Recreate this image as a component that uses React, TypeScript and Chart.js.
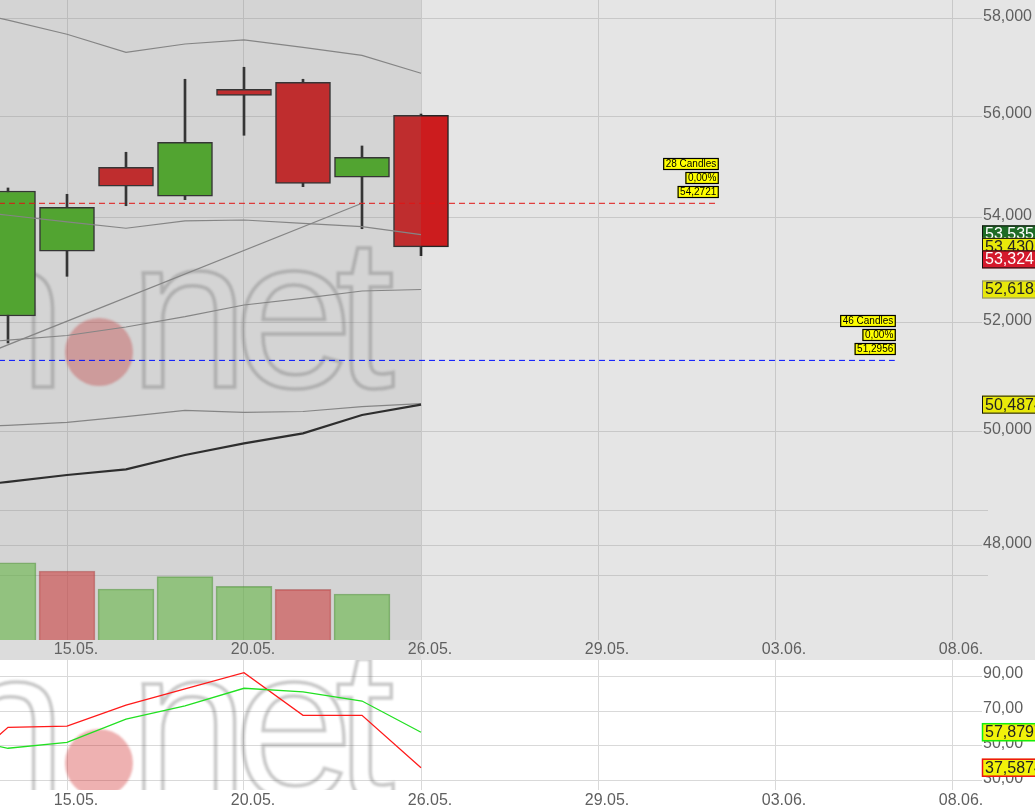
import React, { useEffect, useRef } from 'react';
import { Chart, registerables } from 'chart.js';

Chart.register(...registerables);

const FONT = '"Liberation Sans", Arial, Helvetica, sans-serif';

// ---------- data (prices in thousands, German decimal comma on display) ----------
const candleIdx = [0, 1, 2, 3, 4, 5, 6, 7];
const opens = [52.12, 53.345, 54.979, 54.409, 56.54, 56.682, 54.782, 56.015];
const highs = [54.572, 54.448, 55.276, 56.744, 56.989, 56.744, 55.401, 56.04];
const lows = [51.617, 52.868, 54.225, 54.343, 55.614, 54.597, 53.779, 53.261];
const closes = [54.513, 54.195, 54.605, 55.475, 56.418, 54.663, 55.176, 53.43];

const volumeIdx = [0, 1, 2, 3, 4, 5, 6];
const volumes = [1189, 1062, 785, 974, 826, 780, 708];
const volumeUp = [true, false, true, true, true, false, true];

const lineIdx = [-1, 0, 1, 2, 3, 4, 5, 6, 7];
const upperBand = [58.25, 57.96, 57.668, 57.296, 57.467, 57.55, 57.399, 57.234, 56.866];
const middleBand = [54.169, 54.04, 53.913, 53.788, 53.929, 53.948, 53.884, 53.818, 53.664];
const lowerBand = [50.06, 50.114, 50.168, 50.269, 50.385, 50.349, 50.363, 50.45, 50.505];
const maLine = [51.586, 51.67, 51.756, 51.915, 52.107, 52.326, 52.452, 52.59, 52.6183];
const blackLine = [48.988, 49.107, 49.228, 49.328, 49.583, 49.791, 49.97, 50.3, 50.4874];
const trendIdx = [-1, 6];
const trendValues = [51.149, 54.2721];

const redOsc = [31.2, 60.7, 61.3, 73.4, 82.6, 91.9, 67.5, 67.5, 37.5874];
const greenOsc = [55.4, 48.7, 52.1, 65.4, 72.9, 83.0, 80.9, 75.7, 57.8797];

const xTickIdx = [1, 4, 7, 10, 13, 16];
const xTickLabels = ['15.05.', '20.05.', '26.05.', '29.05.', '03.06.', '08.06.'];
const priceTicks = [48, 50, 52, 54, 56, 58];
const oscTicks = [30, 50, 70, 90];
const volumeGrid = [1000, 2000];

const redLevel = { value: 54.2721, end: 12.03, candles: 28, change: 0 };
const blueLevel = { value: 51.2956, end: 15.03, candles: 46, change: 0 };

const priceTagValues = [53.535, 53.43, 53.324, 52.6183, 50.4874];
const priceTagDecimals = [3, 3, 3, 4, 4];
const oscTagValues = [57.8797, 37.5874];
const oscTagDecimals = [4, 4];

// ---------- axis ranges / styles ----------
const X_MIN = -8 / 59;
const X_MAX = X_MIN + 978 / 59;
const PRICE_MIN = 46.396;
const PRICE_MAX = 58.382;
const VOL_MAX = 9846;
const OSC_MIN = 24.85;
const OSC_MAX = 99.15;
const PAST_END = 7;

const priceTagStyles = [
  { bg: '#1e6b26', fg: '#ffffff', border: '#111', lw: 1 },
  { bg: '#e8e80a', fg: '#222', border: '#111', lw: 1 },
  { bg: '#d5192c', fg: '#ffffff', border: '#111', lw: 1 },
  { bg: '#e8e80a', fg: '#222', border: '#888', lw: 1 },
  { bg: '#e8e80a', fg: '#222', border: '#111', lw: 1 },
];
const oscTagStyles = [
  { bg: '#f2f20a', fg: '#222', border: '#11ee11', lw: 1.5 },
  { bg: '#f2f20a', fg: '#222', border: '#ee1111', lw: 1.5 },
];

const de = (v: number, d: number) => v.toFixed(d).replace('.', ',');
const pts = (xs: number[], ys: any[]) => xs.map((x, i) => ({ x, y: ys[i] }));

function drawTags(ctx: any, scale: any, values: number[], decimals: number[], styles: any[], x: number) {
  const items: any[] = values.map((v, i) => ({ i, p: scale.getPixelForValue(v), text: de(v, decimals[i]) }));
  const sorted = [...items].sort((a, b) => a.p - b.p);
  const GAP = 12.5;
  const clusters: any[][] = [];
  for (const it of sorted) {
    const last = clusters[clusters.length - 1];
    if (last && it.p - last[last.length - 1].p < GAP) last.push(it);
    else clusters.push([it]);
  }
  for (const c of clusters) {
    const mean = c.reduce((s, it) => s + it.p, 0) / c.length;
    c.forEach((it, k) => { it.c = mean + (k - (c.length - 1) / 2) * GAP; });
  }
  ctx.save();
  ctx.font = '16px ' + FONT;
  ctx.textBaseline = 'middle';
  ctx.textAlign = 'left';
  for (const it of sorted) {
    const st = styles[it.i];
    ctx.fillStyle = st.bg;
    ctx.fillRect(x, it.c - 9, 80, 18);
    ctx.strokeStyle = st.border;
    ctx.lineWidth = st.lw;
    ctx.strokeRect(x + 0.5, it.c - 8.5, 80, 17);
    ctx.fillStyle = st.fg;
    ctx.fillText(it.text, x + 3, it.c + 0.5);
  }
  ctx.restore();
}

function drawLevelBoxes(ctx: any, xScale: any, yScale: any, lvl: any) {
  const xr = xScale.getPixelForValue(lvl.end) + 1;
  const y = yScale.getPixelForValue(lvl.value);
  const texts = [de(lvl.value, 4), de(lvl.change, 2) + '%', lvl.candles + ' Candles'];
  ctx.save();
  ctx.font = '10px ' + FONT;
  ctx.textAlign = 'right';
  ctx.textBaseline = 'middle';
  texts.forEach((t, k) => {
    const w = ctx.measureText(t).width + 5;
    const bottom = Math.round(y - 5 - k * 14);
    ctx.fillStyle = '#ffff00';
    ctx.fillRect(xr - w, bottom - 12, w, 12);
    ctx.strokeStyle = '#000';
    ctx.lineWidth = 1.2;
    ctx.strokeRect(xr - w + 0.5, bottom - 11.5, w - 1, 11);
    ctx.fillStyle = '#000';
    ctx.fillText(t, xr - 2.5, bottom - 5.5);
  });
  ctx.restore();
}

function makeWatermark(cy: number) {
  return {
    id: 'watermark',
    beforeDatasetsDraw(chart: any) {
      const { ctx, chartArea: a } = chart;
      ctx.save();
      ctx.beginPath();
      ctx.rect(a.left, a.top, a.right - a.left, a.bottom - a.top);
      ctx.clip();
      ctx.filter = 'blur(0.8px)';
      ctx.font = '215px ' + FONT;
      ctx.textAlign = 'left';
      ctx.textBaseline = 'alphabetic';
      ctx.strokeStyle = 'rgba(110,110,110,0.38)';
      ctx.lineWidth = 3.5;
      const base = cy + 35;
      const mn = ctx.measureText('n');
      ctx.strokeText('n', 53 - mn.actualBoundingBoxRight, base);
      const place = (ch: string, left: number) => {
        const m = ctx.measureText(ch);
        ctx.strokeText(ch, left + m.actualBoundingBoxLeft, base);
      };
      place('n', 143);
      place('e', 243);
      place('t', 338);
      ctx.filter = 'blur(1px)';
      ctx.fillStyle = 'rgba(205,25,25,0.34)';
      ctx.beginPath();
      ctx.arc(99, cy, 34, 0, Math.PI * 2);
      ctx.fill();
      ctx.restore();
    },
  };
}

function makeBackground(color: string) {
  return {
    id: 'bg',
    beforeDraw(chart: any) {
      const { ctx, width, height } = chart;
      ctx.save();
      ctx.fillStyle = color;
      ctx.fillRect(0, 0, width, height);
      ctx.restore();
    },
  };
}

const volumeGridPlugin = {
  id: 'volGrid',
  beforeDatasetsDraw(chart: any) {
    const { ctx } = chart;
    const s = chart.scales.vol;
    ctx.save();
    ctx.strokeStyle = '#c8c8c8';
    ctx.lineWidth = 1;
    for (const v of volumeGrid) {
      const y = Math.round(s.getPixelForValue(v)) + 0.5;
      ctx.beginPath();
      ctx.moveTo(0, y);
      ctx.lineTo(988, y);
      ctx.stroke();
    }
    ctx.restore();
  },
};

const pastOverlayPlugin = {
  id: 'pastOverlay',
  afterDatasetDraw(chart: any, args: any) {
    if (chart.data.datasets[args.index].label !== 'black') return;
    const { ctx, chartArea: a } = chart;
    const x = chart.scales.x.getPixelForValue(PAST_END);
    ctx.save();
    ctx.fillStyle = 'rgba(128,128,128,0.17)';
    ctx.fillRect(0, 0, x, a.bottom);
    ctx.fillStyle = 'rgba(128,128,128,0.09)';
    ctx.fillRect(0, a.bottom, x, chart.height - a.bottom);
    ctx.restore();
  },
};

const topLabelsPlugin = {
  id: 'topLabels',
  afterDraw(chart: any) {
    const { ctx } = chart;
    drawLevelBoxes(ctx, chart.scales.x, chart.scales.y, redLevel);
    drawLevelBoxes(ctx, chart.scales.x, chart.scales.y, blueLevel);
    drawTags(ctx, chart.scales.y, priceTagValues, priceTagDecimals, priceTagStyles, 982);
  },
};

const bottomLabelsPlugin = {
  id: 'bottomLabels',
  afterDraw(chart: any) {
    drawTags(chart.ctx, chart.scales.y, oscTagValues, oscTagDecimals, oscTagStyles, 982);
  },
};

function xAxis(gridColor: string, height: number, padding: number) {
  return {
    type: 'linear',
    min: X_MIN,
    max: X_MAX,
    bounds: 'data',
    offset: false,
    grid: { color: gridColor, drawTicks: false, offset: false },
    border: { display: false },
    afterBuildTicks: (s: any) => { s.ticks = xTickIdx.map((v) => ({ value: v })); },
    afterFit: (s: any) => {
      s.height = height;
      s.paddingLeft = 0;
      s.paddingRight = 0;
    },
    ticks: {
      autoSkip: false,
      maxRotation: 0,
      minRotation: 0,
      padding,
      labelOffset: 9,
      color: '#5f5f5f',
      font: { size: 16 },
      callback: (_v: any, i: number) => xTickLabels[i],
    },
  };
}

function yFit(s: any) {
  s.width = 57;
  s.paddingTop = 0;
  s.paddingBottom = 0;
}

export default function App() {
  const topRef = useRef<HTMLCanvasElement>(null);
  const botRef = useRef<HTMLCanvasElement>(null);

  useEffect(() => {
    document.body.style.margin = '0';
    Chart.defaults.font.family = FONT;

    const bodyColors = candleIdx.map((_, i) => (closes[i] >= opens[i] ? '#49ab21' : '#cc1c1e'));
    const volColors = volumeUp.map((u) => (u ? 'rgba(96,192,59,0.6)' : 'rgba(219,52,52,0.6)'));
    const volBorders = volumeUp.map((u) => (u ? 'rgba(60,140,35,0.55)' : 'rgba(170,45,45,0.5)'));

    const grayLine = (label: string, data: number[], order: number) => ({
      type: 'line',
      label,
      data: pts(lineIdx, data),
      borderColor: '#868686',
      borderWidth: 1.2,
      pointRadius: 0,
      tension: 0,
      yAxisID: 'y',
      order,
    });

    const top = new Chart(topRef.current as any, {
      type: 'line',
      data: {
        datasets: [
          {
            type: 'bar',
            label: 'volume',
            data: pts(volumeIdx, volumes),
            backgroundColor: volColors,
            borderColor: volBorders,
            borderWidth: 1,
            borderSkipped: 'start',
            barThickness: 56,
            grouped: false,
            yAxisID: 'vol',
            order: 10,
          },
          {
            type: 'bar',
            label: 'wicks',
            data: candleIdx.map((x, i) => ({ x, y: [lows[i], highs[i]] })),
            backgroundColor: '#262626',
            borderWidth: 0,
            barThickness: 2,
            grouped: false,
            yAxisID: 'y',
            order: 9,
          },
          {
            type: 'bar',
            label: 'bodies',
            data: candleIdx.map((x, i) => ({ x, y: [opens[i], closes[i]] })),
            backgroundColor: bodyColors,
            borderColor: '#262626',
            borderWidth: 1.5,
            borderSkipped: false,
            barThickness: 55,
            grouped: false,
            yAxisID: 'y',
            order: 8,
          },
          grayLine('upper', upperBand, 7),
          grayLine('middle', middleBand, 6),
          grayLine('lower', lowerBand, 5),
          {
            type: 'line',
            label: 'trend',
            data: pts(trendIdx, trendValues),
            borderColor: '#868686',
            borderWidth: 1.2,
            pointRadius: 0,
            yAxisID: 'y',
            order: 4,
          },
          grayLine('ma', maLine, 3),
          {
            type: 'line',
            label: 'black',
            data: pts(lineIdx, blackLine),
            borderColor: '#1e1e1e',
            borderWidth: 2.2,
            pointRadius: 0,
            yAxisID: 'y',
            order: 2,
          },
          {
            type: 'line',
            label: 'blueLevel',
            data: [{ x: -1, y: blueLevel.value }, { x: blueLevel.end, y: blueLevel.value }],
            borderColor: '#0010ff',
            borderWidth: 1,
            borderDash: [6, 4],
            pointRadius: 0,
            yAxisID: 'y',
            order: 1,
          },
          {
            type: 'line',
            label: 'redLevel',
            data: [{ x: -1, y: redLevel.value }, { x: redLevel.end, y: redLevel.value }],
            borderColor: '#e01515',
            borderWidth: 1,
            borderDash: [6, 4],
            pointRadius: 0,
            yAxisID: 'y',
            order: 0,
          },
        ],
      } as any,
      options: {
        responsive: false,
        animation: false,
        events: [],
        layout: { padding: 0, autoPadding: false },
        plugins: { legend: { display: false }, tooltip: { enabled: false } },
        scales: {
          x: xAxis('#c8c8c8', 20, 0),
          y: {
            type: 'logarithmic',
            position: 'right',
            min: PRICE_MIN,
            max: PRICE_MAX,
            bounds: 'data',
            grid: { color: '#c8c8c8', tickLength: 4, drawTicks: true },
            border: { display: false },
            afterBuildTicks: (s: any) => { s.ticks = priceTicks.map((v) => ({ value: v })); },
            afterFit: yFit,
            ticks: {
              autoSkip: false,
              padding: 1,
              labelOffset: -2,
              color: '#5f5f5f',
              font: { size: 16 },
              callback: (v: any) => de(Number(v), 3),
            },
          },
          vol: { type: 'linear', display: false, min: 0, max: VOL_MAX, bounds: 'data' },
        },
      } as any,
      plugins: [makeBackground('#e5e5e5'), volumeGridPlugin, makeWatermark(352), pastOverlayPlugin, topLabelsPlugin] as any,
    });

    const bot = new Chart(botRef.current as any, {
      type: 'line',
      data: {
        datasets: [
          {
            label: 'green',
            data: pts(lineIdx, greenOsc),
            borderColor: '#22e022',
            borderWidth: 1.3,
            pointRadius: 0,
          },
          {
            label: 'red',
            data: pts(lineIdx, redOsc),
            borderColor: '#ff1a1a',
            borderWidth: 1.3,
            pointRadius: 0,
          },
        ],
      } as any,
      options: {
        responsive: false,
        animation: false,
        events: [],
        layout: { padding: 0, autoPadding: false },
        plugins: { legend: { display: false }, tooltip: { enabled: false } },
        scales: {
          x: xAxis('#d9d9d9', 19, 1),
          y: {
            type: 'linear',
            position: 'right',
            min: OSC_MIN,
            max: OSC_MAX,
            bounds: 'data',
            grid: { color: '#d9d9d9', tickLength: 4, drawTicks: true },
            border: { display: false },
            afterBuildTicks: (s: any) => { s.ticks = oscTicks.map((v) => ({ value: v })); },
            afterFit: yFit,
            ticks: {
              autoSkip: false,
              padding: 1,
              labelOffset: -2,
              color: '#5f5f5f',
              font: { size: 16 },
              callback: (v: any) => de(Number(v), 2),
            },
          },
        },
      } as any,
      plugins: [makeBackground('#ffffff'), makeWatermark(103), bottomLabelsPlugin] as any,
    });

    return () => {
      top.destroy();
      bot.destroy();
    };
  }, []);

  return (
    <div style={{ position: 'absolute', left: 0, top: 0, width: 1035, height: 809, overflow: 'hidden' }}>
      <canvas
        ref={topRef}
        width={1035}
        height={660}
        style={{ position: 'absolute', left: 0, top: 0, width: 1035, height: 660 }}
      />
      <canvas
        ref={botRef}
        width={1035}
        height={149}
        style={{ position: 'absolute', left: 0, top: 660, width: 1035, height: 149 }}
      />
    </div>
  );
}
